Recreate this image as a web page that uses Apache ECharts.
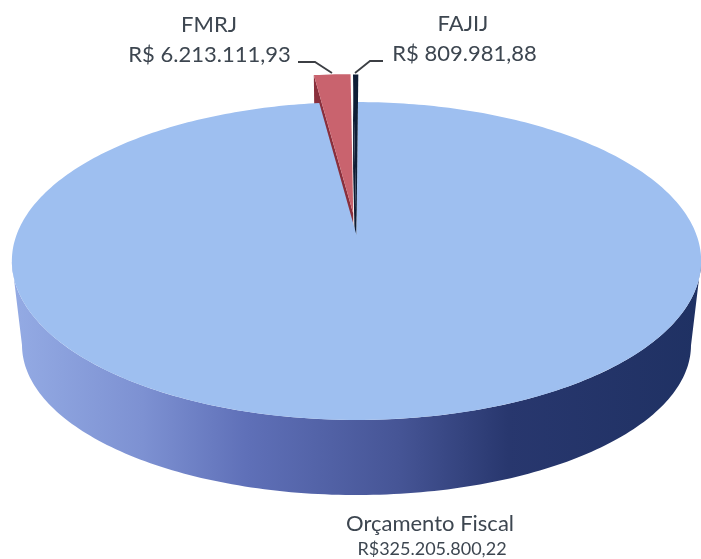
<!DOCTYPE html>
<html>
<head>
<meta charset="utf-8">
<style>
  html, body { margin: 0; padding: 0; background: #fff; }
  #chart { width: 701px; height: 559px; }
</style>
</head>
<body>
<div id="chart"></div>
<script src="https://cdn.jsdelivr.net/npm/echarts@6/dist/echarts.min.js"></script>
<script>
// dados do gráfico
const names = ['Orçamento Fiscal', 'FMRJ', 'FAJIJ']
const values = [325205800.22, 6213111.93, 809981.88]
const valueLabels = ['R$325.205.800,22', 'R$ 6.213.111,93', 'R$ 809.981,88']

// perspectiva do disco (k = força da perspectiva)
const k = 0.1635
const cx = 356.5
const topFace = { R: 340, y0: 235, Y: 154.7 }
const bottomFace = { R: 330, y0: 320.5, Y: 146 }
const startDeg = 0.3

const sliceStyle = [
  { top: '#9ebff0', explode: 0, reach: 1 },
  { top: '#c9636e', side: '#8a2f3c', explode: 0.143, reach: 1.11 },
  { top: '#0f1e36', side: '#0f1e36', explode: 0.02, reach: 1.23 },
]

const total = values.reduce((a, b) => a + b, 0)
const spans = []
values.reduce((acc, v) => {
  const end = acc + (v / total) * 360
  spans.push([acc + startDeg, end + startDeg])
  return end
}, 0)

function project(face, mx, my) {
  const w = 1 / (1 - k * my)
  return [cx + face.R * mx * w, face.y0 + face.Y * my * w]
}

// ângulo medido a partir do topo, sentido horário
function rimPoint(face, deg, st) {
  const a = (deg * Math.PI) / 180
  const [ox, oy] = offset(st)
  return project(face, ox + st.reach * Math.sin(a), oy - st.reach * Math.cos(a))
}

let bisector = 0
function offset(st) {
  const a = (bisector * Math.PI) / 180
  return [st.explode * Math.sin(a), -st.explode * Math.cos(a)]
}

function sector(face, from, to, st) {
  const pts = []
  const [ox, oy] = offset(st)
  pts.push(project(face, ox, oy))
  const n = Math.max(2, Math.ceil(to - from))
  for (let i = 0; i <= n; i++) pts.push(rimPoint(face, from + ((to - from) * i) / n, st))
  return pts
}

// parede frontal do disco, entre os extremos da elipse
function frontWall() {
  const edge = (Math.acos(-k) * 180) / Math.PI
  const st = sliceStyle[0]
  const pts = []
  for (let d = edge; d <= 360 - edge; d += 1) pts.push(rimPoint(topFace, d, st))
  for (let d = 360 - edge; d >= edge; d -= 1) pts.push(rimPoint(bottomFace, d, st))
  return pts
}

function renderSlice(params, api) {
  const idx = api.value(0)
  const st = sliceStyle[idx]
  const [from, to] = spans[idx]
  bisector = (from + to) / 2
  const children = []

  if (idx === 0) {
    children.push({
      type: 'polygon',
      z2: 2,
      shape: { points: frontWall() },
      style: {
        fill: new echarts.graphic.LinearGradient(0, 0, 1, 0, [
          { offset: 0, color: '#94abe4' },
          { offset: 0.19, color: '#7d91d2' },
          { offset: 0.34, color: '#5f70b8' },
          { offset: 0.56, color: '#465596' },
          { offset: 0.72, color: '#28376e' },
          { offset: 1, color: '#1f3163' },
        ]),
      },
    })
  } else {
    // parede lateral da fatia destacada, fica atrás do topo do disco
    const t0 = project(topFace, ...offset(st))
    const b0 = project(bottomFace, ...offset(st))
    children.push({
      type: 'polygon',
      z2: 1,
      shape: { points: [t0, rimPoint(topFace, from, st), rimPoint(bottomFace, from, st), b0] },
      style: { fill: st.side },
    })
  }

  children.push({
    type: 'polygon',
    z2: idx === 0 ? 3 : 4,
    shape: { points: sector(topFace, from, to, st) },
    style: { fill: st.top },
  })
  return { type: 'group', children }
}

function textItem(text, x, y, size) {
  return {
    type: 'text',
    x,
    y,
    style: { text, fontSize: size, fontFamily: 'Lato, sans-serif', fill: '#3d4650', align: 'center', verticalAlign: 'middle' },
  }
}

function leader(points) {
  return {
    type: 'polyline',
    shape: { points },
    style: { stroke: '#3c3f44', lineWidth: 1.8, fill: 'none' },
  }
}

const chart = echarts.init(document.getElementById('chart'), null, { renderer: 'canvas' })
chart.setOption({
  animation: false,
  backgroundColor: '#ffffff',
  series: [{
    type: 'custom',
    coordinateSystem: 'none',
    renderItem: renderSlice,
    silent: true,
    data: values.map((v, i) => [i, v]),
  }],
  graphic: [
    textItem(names[1], 209, 25, 22),
    textItem(valueLabels[1], 209.5, 55, 22),
    textItem(names[2], 463, 24, 22),
    textItem(valueLabels[2], 464.5, 54, 22),
    textItem(names[0], 430, 524, 22),
    textItem(valueLabels[0], 432, 549, 18),
    leader([[298, 62], [315, 62], [332, 73]]),
    leader([[383, 61], [370, 61], [355, 73]]),
  ],
})
</script>
</body>
</html>
